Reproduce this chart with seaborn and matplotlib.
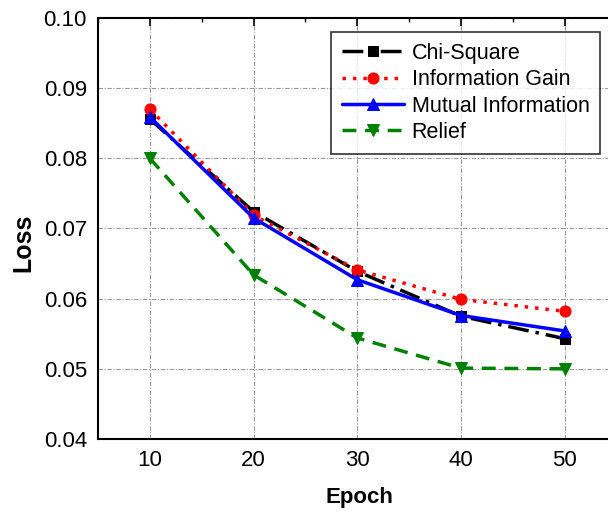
import matplotlib
matplotlib.use("Agg")
import matplotlib.pyplot as plt
import seaborn as sns
import pandas as pd
from matplotlib.ticker import MultipleLocator

epochs = [10, 20, 30, 40, 50]
chi_square = [0.0856, 0.0724, 0.0639, 0.0575, 0.0543]
info_gain = [0.0870, 0.0719, 0.0641, 0.0599, 0.0582]
mutual_info = [0.0859, 0.0715, 0.0627, 0.0576, 0.0554]
relief = [0.0800, 0.0634, 0.0544, 0.0501, 0.0500]

series = [
    ("Chi-Square", chi_square, "black", (0, (6, 2, 1, 2)), "s", 7),
    ("Information Gain", info_gain, "red", (0, (1, 2)), "o", 8),
    ("Mutual Information", mutual_info, "blue", "-", "^", 8),
    ("Relief", relief, "green", (0, (4, 2.5)), "v", 8),
]

sns.set_style("white")
plt.rcParams['font.family'] = ['Liberation Sans', 'DejaVu Sans']
plt.rcParams['text.color'] = 'black'
plt.rcParams['axes.labelcolor'] = 'black'
plt.rcParams['xtick.color'] = 'black'
plt.rcParams['ytick.color'] = 'black'

fig = plt.figure(figsize=(6.08, 5.15), dpi=100)
ax = fig.add_axes([98 / 608, 76 / 515, 518.5 / 608, 421 / 515])

for name, vals, color, ls, mk, ms in series:
    df = pd.DataFrame({"Epoch": epochs, "Loss": vals})
    sns.lineplot(data=df, x="Epoch", y="Loss", ax=ax, color=color, linestyle=ls,
                 marker=mk, markersize=ms, markeredgecolor=color, linewidth=2.5,
                 label=name)

ax.set_xlim(5, 55)
ax.set_ylim(0.04, 0.10)
ax.xaxis.set_major_locator(MultipleLocator(10))
ax.xaxis.set_minor_locator(MultipleLocator(5))
ax.yaxis.set_major_locator(MultipleLocator(0.01))
ax.yaxis.set_minor_locator(MultipleLocator(0.005))
ax.set_yticks(ax.get_yticks())
ax.set_yticklabels([f"{v:.2f}" for v in ax.get_yticks()])
ax.set_ylim(0.04, 0.10)
ax.tick_params(which="major", direction="in", length=6, width=1.2, top=True, right=True,
               labelsize=16, color="black", pad=8)
ax.tick_params(which="minor", direction="in", length=3, width=1.0, top=True, right=True)
ax.grid(True, which="major", color="#999999", linestyle=(0, (4, 1.5, 1, 1.5)), linewidth=0.8)
for s in ax.spines.values():
    s.set_color("black")
    s.set_linewidth(1.5)

ax.set_xlabel("Epoch", fontsize=16, fontweight="bold")
ax.set_ylabel("Loss", fontsize=18, fontweight="bold")
ax.xaxis.set_label_coords((359 - 98) / 518.5, -(497 - 439) / 421)
ax.yaxis.set_label_coords(-(98 - 23) / 518.5, (439 - 243) / 421)
ax.xaxis.label.set_va("center")
ax.yaxis.label.set_va("center")

leg = ax.legend(loc="upper left", bbox_to_anchor=(233 / 518.5, 1 - 14 / 421), fontsize=15.5,
                frameon=True, fancybox=False, edgecolor="black", handlelength=2.9,
                handletextpad=0.35, borderpad=0.5, labelspacing=0.25, borderaxespad=0)
leg.get_frame().set_linewidth(1.2)

fig.savefig("out.png", dpi=100)
